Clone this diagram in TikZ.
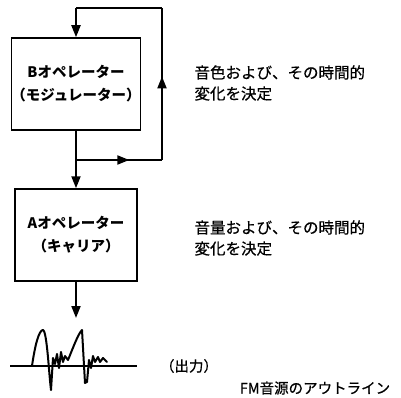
\documentclass[tikz,border=0pt]{standalone}
\usepackage{fontspec}
\newfontfamily\cjk{Noto Sans CJK JP}
\newfontfamily\cjkm[FakeBold=0.6]{Noto Sans CJK JP}
\usetikzlibrary{arrows.meta,decorations.markings}
\begin{document}
\begin{tikzpicture}[x=1pt,y=-1pt,
  opbox/.style={draw,line width=1.5pt,minimum width=122pt,minimum height=92pt,inner sep=0pt,align=center,font=\cjk\fontsize{14.5}{23}\selectfont\bfseries},
  wire/.style={line width=2pt},
  tri/.style={-{Triangle[length=12pt,width=9pt]}},
  midarrow/.style={postaction={decorate},decoration={markings,mark=at position #1 with {\arrow{Triangle[length=12pt,width=9pt]}}}},
  desc/.style={anchor=west,align=left,font=\cjkm\fontsize{15.5}{21}\selectfont},
  lbl/.style={font=\cjkm\fontsize{14.5}{16}\selectfont}
]
\useasboundingbox (0,0) rectangle (401,398);
\node[opbox] (B) at (76,84) {Bオペレーター\\（モジュレーター）};
\node[opbox] (A) at (76,235) {Aオペレーター\\（キャリア）};
\coordinate (J) at (76,160);
\coordinate (JR) at (162,160);
\coordinate (TR) at (162,8);
\coordinate (TL) at (76,8);
\coordinate (out) at (76,318);
\draw[wire] (B.south) -- (J);
\draw[wire,tri] (J) -- (A.north);
\draw[wire,midarrow=0.62] (J) -- (JR);
\draw[wire,line join=miter,midarrow=0.55] (JR) -- (TR);
\draw[wire] (TR) -- (TL);
\draw[wire,tri] (TL) -- (B.north);
\draw[wire,tri] (A.south) -- (out);
% waveform
\coordinate (ax1) at (10,366);
\coordinate (ax2) at (137,366);
\draw[line width=1.2pt] (ax1) -- (ax2);
\draw[line width=2pt,line join=round,line cap=round]
  (32,366) .. controls (35,345) and (39,330) .. (43,330)
  .. controls (47,331) and (49,375) .. (51,390)
  -- (53,358) -- (55,364) -- (57,354) -- (59,368) -- (61,352) -- (63,362)
  -- (65,356) -- (68,360)
  .. controls (73,348) and (78,334) .. (82,330)
  -- (85,383) -- (87,382) -- (89,360) -- (91,368) -- (93,356) -- (95,362)
  -- (98,357) -- (100,362) -- (103,358) -- (107,362);
\node[lbl] (o) at (189,366) {（出力）};
\node[desc] (t1) at (191,83) {音色および、その時間的\\変化を決定};
\node[desc] (t2) at (191,238) {音量および、その時間的\\変化を決定};
\node[lbl] (cap) at (315,388) {FM音源のアウトライン};
\end{tikzpicture}
\end{document}
